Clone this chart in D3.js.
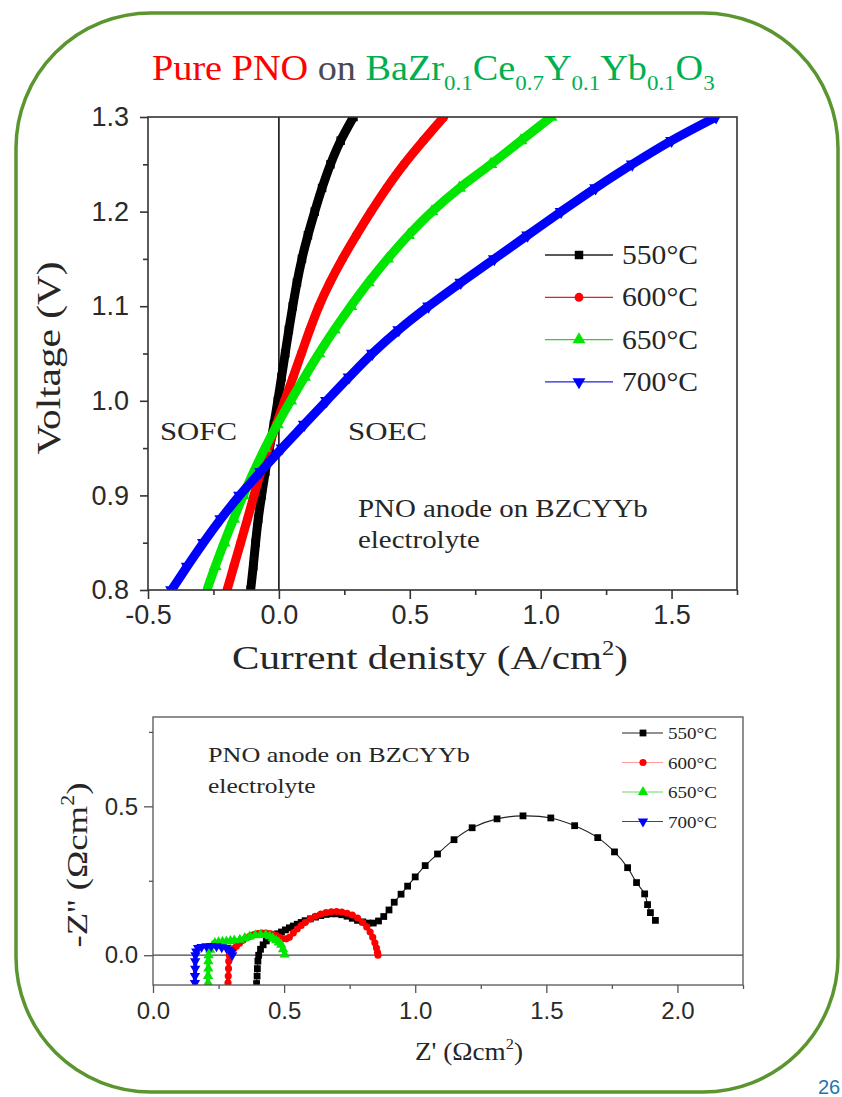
<!DOCTYPE html>
<html><head><meta charset="utf-8">
<script src="https://cdn.jsdelivr.net/npm/d3@7"></script>
<style>body{margin:0;background:#fff}svg{display:block}</style>
</head><body>
<svg id="c" width="842" height="1097"></svg>
<script>
// ---------------- DATA ----------------
// Top: i-V curves, voltage grid (V) and current density (A/cm2) per temperature
const voltage = [0.800,0.825,0.850,0.875,0.900,0.925,0.950,0.975,1.000,1.025,1.050,1.075,1.100,1.125,1.150,1.175,1.200,1.225,1.250,1.275,1.300];
const current550 = [-0.108,-0.098,-0.089,-0.079,-0.066,-0.052,-0.036,-0.019,-0.004,0.010,0.024,0.038,0.053,0.069,0.088,0.111,0.137,0.165,0.197,0.236,0.285];
const current600 = [-0.198,-0.172,-0.146,-0.120,-0.095,-0.069,-0.041,-0.010,0.022,0.054,0.086,0.118,0.153,0.195,0.243,0.296,0.352,0.412,0.478,0.552,0.630];
const current650 = [-0.275,-0.243,-0.209,-0.173,-0.136,-0.096,-0.053,-0.006,0.045,0.098,0.153,0.212,0.275,0.342,0.415,0.495,0.585,0.690,0.810,0.925,1.040];
const current700 = [-0.410,-0.350,-0.288,-0.222,-0.150,-0.070,0.012,0.097,0.182,0.268,0.357,0.458,0.572,0.695,0.823,0.950,1.078,1.210,1.350,1.500,1.670];
const temps = ["550°C","600°C","650°C","700°C"];
const ivXTicks = [-0.5,0.0,0.5,1.0,1.5];
const ivXMinor = [-0.25,0.25,0.75,1.25,1.75];
const ivYTicks = [0.8,0.9,1.0,1.1,1.2,1.3];
const ivYMinor = [0.85,0.95,1.05,1.15,1.25];

// Bottom: impedance spectra, [Z', -Z''] in Ohm cm2
const nyq550 = [[0.395,-0.095],[0.397,-0.07],[0.398,-0.045],[0.400,-0.02],[0.403,0.0],[0.410,0.020],[0.420,0.035],[0.432,0.048],[0.446,0.058],[0.460,0.065],[0.475,0.072],[0.490,0.078],[0.505,0.085],[0.520,0.092],[0.535,0.098],[0.550,0.104],[0.565,0.110],[0.580,0.116],[0.600,0.122],[0.620,0.128],[0.640,0.133],[0.660,0.137],[0.680,0.139],[0.700,0.139],[0.720,0.136],[0.740,0.131],[0.760,0.124],[0.780,0.117],[0.800,0.112],[0.820,0.108],[0.840,0.108],[0.860,0.115],[0.880,0.130],[0.900,0.152],[0.920,0.178],[0.946,0.205],[0.971,0.232],[1.000,0.263],[1.038,0.301],[1.085,0.340],[1.148,0.388],[1.217,0.428],[1.312,0.458],[1.411,0.468],[1.517,0.461],[1.608,0.435],[1.696,0.395],[1.760,0.347],[1.810,0.294],[1.844,0.244],[1.875,0.206],[1.886,0.170],[1.897,0.143],[1.916,0.117]];
const nyq600 = [[0.286,-0.093],[0.287,-0.07],[0.288,-0.045],[0.289,-0.02],[0.291,0.0],[0.299,0.013],[0.308,0.022],[0.318,0.030],[0.330,0.040],[0.343,0.050],[0.356,0.058],[0.370,0.064],[0.385,0.069],[0.400,0.073],[0.415,0.074],[0.430,0.074],[0.445,0.073],[0.457,0.070],[0.470,0.066],[0.483,0.060],[0.495,0.055],[0.508,0.055],[0.520,0.060],[0.535,0.075],[0.550,0.088],[0.565,0.100],[0.580,0.110],[0.600,0.122],[0.620,0.131],[0.640,0.138],[0.660,0.143],[0.680,0.146],[0.700,0.147],[0.720,0.145],[0.740,0.141],[0.760,0.135],[0.780,0.125],[0.800,0.110],[0.815,0.095],[0.828,0.078],[0.838,0.060],[0.846,0.042],[0.852,0.025],[0.856,0.010],[0.858,0.0]];
const nyq650 = [[0.210,-0.093],[0.210,-0.07],[0.211,-0.045],[0.211,-0.02],[0.212,0.0],[0.218,0.018],[0.226,0.032],[0.236,0.041],[0.250,0.044],[0.265,0.045],[0.280,0.046],[0.295,0.048],[0.310,0.050],[0.331,0.052],[0.350,0.058],[0.369,0.063],[0.390,0.067],[0.410,0.069],[0.430,0.068],[0.445,0.064],[0.457,0.058],[0.470,0.050],[0.480,0.043],[0.489,0.035],[0.496,0.020],[0.502,0.002]];
const nyq700 = [[0.160,-0.093],[0.160,-0.07],[0.161,-0.045],[0.161,-0.02],[0.162,0.0],[0.165,0.013],[0.172,0.024],[0.185,0.028],[0.204,0.030],[0.222,0.031],[0.242,0.030],[0.262,0.027],[0.280,0.024],[0.292,0.018],[0.299,0.010],[0.302,0.0]];
const eisXTicks = [0.0,0.5,1.0,1.5,2.0];
const eisXMinor = [0.25,0.75,1.25,1.75,2.25];
const eisYTicks = [0.0,0.5];
const eisYMinor = [0.25,0.75];

// ---------------- DRAWING ----------------
const SERIF = "Liberation Serif, Times New Roman, Times, DejaVu Serif, serif";
const SANS = "Liberation Sans, Arial, Helvetica, sans-serif";
const colors = ["#000000","#ff0000","#00e600","#0000ff"];
const legendLine = ["#222222","#dd2222","#33cc33","#2222dd"];
const legendLine2 = ["#222222","#ff9a9a","#66dd66","#3333ee"];
const symbols = [d3.symbolSquare, d3.symbolCircle, d3.symbolTriangle, d3.symbolTriangle];
const symRot = [0,0,0,180];

const svg = d3.select("#c");

function richText(parent, o) {
  const g = parent.append("g");
  const t = g.append("text").style("font-family", o.family || SERIF).attr("font-size", o.size)
    .attr("fill", o.fill || "#262626").attr("text-anchor", o.anchor || "start");
  let shift = 0;
  o.segs.forEach(s => {
    const [str, kind, col] = typeof s === "string" ? [s, 0, null] : s;
    const target = kind === 1 ? o.size * 0.28 : kind === 2 ? -o.size * 0.42 : 0;
    const ts = t.append("tspan").text(str).attr("dy", target - shift);
    if (kind) ts.attr("font-size", o.size * (o.subScale || 0.6));
    if (col) ts.attr("fill", col);
    shift = target;
  });
  const bw = t.node().getBBox().width;
  const s = o.width ? o.width / bw : (o.sx || 1);
  g.attr("transform", `translate(${o.x},${o.y}) rotate(${o.rot || 0}) scale(${s},1)`);
  return g;
}

// border
svg.append("rect").attr("x",16).attr("y",13).attr("width",822).attr("height",1079).attr("rx",135).attr("ry",135)
  .attr("fill","none").attr("stroke","#5b9530").attr("stroke-width",3.5);

// title
const G = "#00b050";
richText(svg, {x:152, y:80, size:36, width:563, segs:[
  ["Pure PNO",0,"#ff0000"],[" on ",0,"#4a4a55"],["BaZr",0,G],["0.1",1,G],["Ce",0,G],["0.7",1,G],
  ["Y",0,G],["0.1",1,G],["Yb",0,G],["0.1",1,G],["O",0,G],["3",1,G]]});

// ---------- top chart ----------
const box1 = {l:148, r:737, t:117, b:590};
const xT = d3.scaleLinear().domain([-0.5,1.75]).range([box1.l, box1.r]);
const yT = d3.scaleLinear().domain([0.8,1.3]).range([box1.b, box1.t]);
const fmt = d => d.toFixed(1);

svg.append("clipPath").attr("id","clipT").append("rect")
  .attr("x",box1.l).attr("y",box1.t).attr("width",box1.r-box1.l).attr("height",box1.b-box1.t);

function styleAxis(g, size, col, w) {
  g.select(".domain").remove();
  g.selectAll("line").attr("stroke", col).attr("stroke-width", w);
  g.selectAll("text").style("font-family", SANS).attr("font-size", size).attr("fill", "#2a2a2a");
}
svg.append("g").attr("transform",`translate(0,${box1.b})`)
  .call(d3.axisBottom(xT).tickValues(ivXTicks).tickSize(9).tickPadding(6).tickFormat(fmt))
  .call(g => styleAxis(g, 27, "#333", 1.6));
svg.append("g").attr("transform",`translate(0,${box1.b})`)
  .call(d3.axisBottom(xT).tickValues(ivXMinor).tickSize(5).tickFormat(""))
  .call(g => styleAxis(g, 27, "#333", 1.6));
svg.append("g").attr("transform",`translate(${box1.l},0)`)
  .call(d3.axisLeft(yT).tickValues(ivYTicks).tickSize(8).tickPadding(11).tickFormat(fmt))
  .call(g => styleAxis(g, 27, "#333", 1.6));
svg.append("g").attr("transform",`translate(${box1.l},0)`)
  .call(d3.axisLeft(yT).tickValues(ivYMinor).tickSize(5).tickFormat(""))
  .call(g => styleAxis(g, 27, "#333", 1.6));

// zero line
svg.append("line").attr("x1",xT(0)).attr("x2",xT(0)).attr("y1",box1.t).attr("y2",box1.b)
  .attr("stroke","#111").attr("stroke-width",1.6);

const ivSeries = [current550, current600, current650, current700];
const cT = svg.append("g").attr("clip-path","url(#clipT)");
const lineT = d3.line().x(d => xT(d[0])).y(d => yT(d[1])).curve(d3.curveMonotoneY);
ivSeries.forEach((cur, i) => {
  const pts = cur.map((c, k) => [c, voltage[k]]);
  cT.append("path").attr("d", lineT(pts)).attr("fill","none").attr("stroke", colors[i])
    .attr("stroke-width", 9).attr("stroke-linejoin","round");
  const sym = d3.symbol().type(symbols[i]).size(i === 1 ? 62 : 72);
  cT.selectAll(null).data(pts).enter().append("path").attr("d", sym)
    .attr("transform", d => `translate(${xT(d[0])},${yT(d[1])}) rotate(${symRot[i]})`)
    .attr("fill", colors[i]);
});

svg.append("rect").attr("x",box1.l).attr("y",box1.t).attr("width",box1.r-box1.l).attr("height",box1.b-box1.t)
  .attr("fill","none").attr("stroke","#333").attr("stroke-width",1.6);

// top legend
temps.forEach((t, i) => {
  const y0 = 255 + i * 42.3;
  svg.append("line").attr("x1",545).attr("x2",613).attr("y1",y0).attr("y2",y0)
    .attr("stroke", legendLine[i]).attr("stroke-width",1.3);
  svg.append("path").attr("d", d3.symbol().type(symbols[i]).size(i === 1 ? 62 : 72))
    .attr("transform", `translate(579,${y0}) rotate(${symRot[i]})`).attr("fill", colors[i]);
  richText(svg, {x:622, y:y0+9, size:27, width:76, segs:[t]});
});

// annotations top
richText(svg, {x:160, y:440, size:26, width:77, segs:["SOFC"]});
richText(svg, {x:348, y:440, size:26, width:79, segs:["SOEC"]});
const sTop = 1.18;
richText(svg, {x:358, y:517, size:24.5, sx:sTop, segs:["PNO anode on BZCYYb"]});
richText(svg, {x:358, y:548, size:24.5, sx:sTop, segs:["electrolyte"]});

// axis titles top
richText(svg, {x:232, y:669, size:34, width:396, segs:["Current denisty (A/cm",["2",2],")"]});
richText(svg, {x:60, y:358, size:34, width:193, rot:-90, anchor:"middle", segs:["Voltage (V)"]});

// ---------- bottom chart ----------
const box2 = {l:153, r:743, t:717, b:985};
const xB = d3.scaleLinear().domain([0,2.25]).range([box2.l, box2.r]);
const yB = d3.scaleLinear().domain([-0.1,0.8]).range([box2.b, box2.t]);

svg.append("clipPath").attr("id","clipB").append("rect")
  .attr("x",box2.l).attr("y",box2.t).attr("width",box2.r-box2.l).attr("height",box2.b-box2.t);

svg.append("g").attr("transform",`translate(0,${box2.b})`)
  .call(d3.axisBottom(xB).tickValues(eisXTicks).tickSize(8).tickPadding(9).tickFormat(fmt))
  .call(g => styleAxis(g, 24, "#555", 1.3));
svg.append("g").attr("transform",`translate(0,${box2.b})`)
  .call(d3.axisBottom(xB).tickValues(eisXMinor).tickSize(4).tickFormat(""))
  .call(g => styleAxis(g, 24, "#555", 1.3));
svg.append("g").attr("transform",`translate(${box2.l},0)`)
  .call(d3.axisLeft(yB).tickValues(eisYTicks).tickSize(9).tickPadding(6).tickFormat(fmt))
  .call(g => styleAxis(g, 24, "#555", 1.3));
svg.append("g").attr("transform",`translate(${box2.l},0)`)
  .call(d3.axisLeft(yB).tickValues(eisYMinor).tickSize(4).tickFormat(""))
  .call(g => styleAxis(g, 24, "#555", 1.3));

svg.append("line").attr("x1",box2.l).attr("x2",box2.r).attr("y1",yB(0)).attr("y2",yB(0))
  .attr("stroke","#444").attr("stroke-width",1.3);

const eisSeries = [nyq550, nyq600, nyq650, nyq700];
const cB = svg.append("g").attr("clip-path","url(#clipB)");
const lineB = d3.line().x(d => xB(d[0])).y(d => yB(d[1])).curve(d3.curveCatmullRom);
eisSeries.forEach((pts, i) => {
  cB.append("path").attr("d", lineB(pts)).attr("fill","none").attr("stroke", i === 0 ? legendLine2[0] : colors[i])
    .attr("stroke-width", i === 0 ? 1.1 : 4);
  const sym = d3.symbol().type(symbols[i]).size(i === 1 ? 40 : 46);
  cB.selectAll(null).data(pts).enter().append("path").attr("d", sym)
    .attr("transform", d => `translate(${xB(d[0])},${yB(d[1])}) rotate(${symRot[i]})`)
    .attr("fill", colors[i]);
});

svg.append("rect").attr("x",box2.l).attr("y",box2.t).attr("width",box2.r-box2.l).attr("height",box2.b-box2.t)
  .attr("fill","none").attr("stroke","#555").attr("stroke-width",1.3);

// bottom legend
temps.forEach((t, i) => {
  const y0 = 733 + i * 29.5;
  svg.append("line").attr("x1",622).attr("x2",663).attr("y1",y0).attr("y2",y0)
    .attr("stroke", legendLine2[i]).attr("stroke-width",1.2);
  svg.append("path").attr("d", d3.symbol().type(symbols[i]).size(i === 1 ? 40 : 46))
    .attr("transform", `translate(643,${y0}) rotate(${symRot[i]})`).attr("fill", colors[i]);
  richText(svg, {x:668, y:y0+6, size:17, width:49, segs:[t]});
});

richText(svg, {x:208, y:762, size:22, width:262, segs:["PNO anode on BZCYYb"]});
richText(svg, {x:208, y:793, size:22, sx:1.16, segs:["electrolyte"]});

richText(svg, {x:415, y:1060, size:26, width:108, segs:["Z' (Ωcm",["2",2],")"]});
richText(svg, {x:87, y:865, size:30, width:165, rot:-90, anchor:"middle", segs:["-Z'' (Ωcm",["2",2],")"]});

// page number
svg.append("text").attr("x",818).attr("y",1094).style("font-family",SANS).attr("font-size",20)
  .attr("fill","#2474b0").text("26");
</script>
</body></html>
